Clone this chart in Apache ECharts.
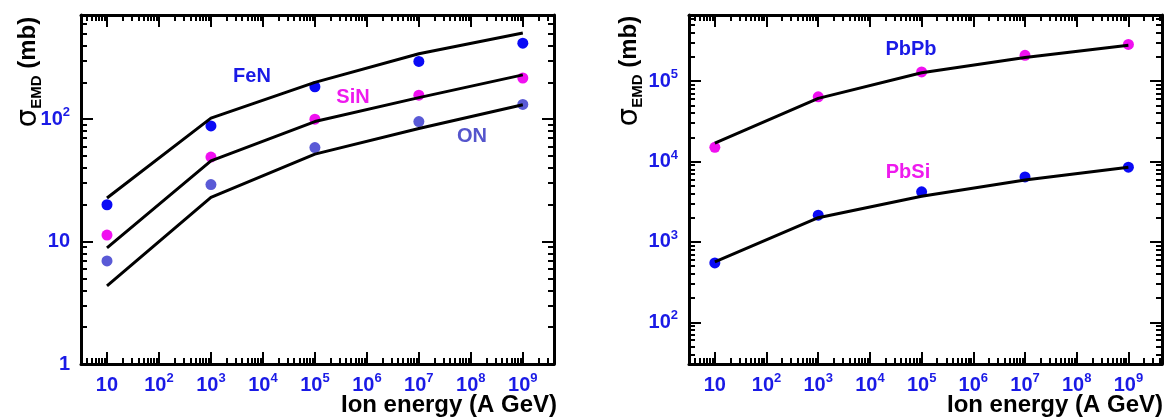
<!DOCTYPE html>
<html><head><meta charset="utf-8">
<script src="https://cdn.jsdelivr.net/npm/echarts@6/dist/echarts.min.js"></script>
<style>html,body{margin:0;padding:0;background:#fff}#c{width:1167px;height:417px}</style>
</head><body><div id="c"></div>
<script>
// ---- data ----
const energies = [10, 1e3, 1e5, 1e7, 1e9];           // A GeV
const feNPoints = [20, 88, 184, 296, 418];            // mb
const siNPoints = [11.3, 49, 100, 157, 217];
const oNPoints  = [6.95, 29.2, 58.6, 95.6, 132];
const feNCurve  = [22.7, 102, 200, 342, 505];
const siNCurve  = [8.9, 45.6, 95.6, 150, 230];
const oNCurve   = [4.35, 23, 51.8, 84, 131];
const pbPbPoints = [15000, 63800, 130000, 209000, 286000];
const pbSiPoints = [548, 2150, 4190, 6430, 8500];
const pbPbCurve  = [16900, 61000, 127000, 197000, 280000];
const pbSiCurve  = [565, 2000, 3700, 5900, 8500];
const xTickExponents = [1, 2, 3, 4, 5, 6, 7, 8, 9];
const yTickExponentsLeft = [0, 1, 2];
const yTickExponentsRight = [2, 3, 4, 5];
const seriesNamesLeft = ['FeN', 'SiN', 'ON'];
const seriesNamesRight = ['PbPb', 'PbSi'];

// ---- styling ----
const FONT = 'Liberation Sans, Arial, sans-serif';
const LBL = '#1a1ae6';
const BLUE = '#0a0af5', MAG = '#f010f0', SLATE = '#5a5ad6';
const L = v => Math.log10(v);
const pairs = (xs, ys) => xs.map((x, i) => [L(x), L(ys[i])]);

function fmtExp(v) {
  const n = Math.round(v);
  if (n === 0) return '{b|1}';
  if (n === 1) return '{b|10}';
  return '{b|10}{s|' + n + '}';
}
const rich = {
  b: {fontSize: 20, fontWeight: 'bold', color: LBL, fontFamily: FONT, lineHeight: 26},
  s: {fontSize: 13, fontWeight: 'bold', color: LBL, fontFamily: FONT, lineHeight: 14, verticalAlign: 'top'}
};
function minorVals(lo, hi) {
  const out = [];
  for (let e = Math.floor(lo) - 1; e <= Math.ceil(hi); e++)
    for (let k = 2; k <= 9; k++) { const v = e + Math.log10(k); if (v > lo + 0.01 && v < hi - 0.01) out.push(v); }
  return out;
}
function axesFor(dim, gi, min, max, major, labelMargin) {
  const minor = minorVals(min, max);
  const pos = dim === 'x' ? ['bottom', 'top'] : ['left', 'right'];
  const tick = (vals, len) => ({show: true, inside: true, length: len, lineStyle: {color: '#000', width: 2}, customValues: vals});
  const base = {type: 'value', gridIndex: gi, min, max, splitLine: {show: false}};
  const line = {show: true, onZero: false, lineStyle: {color: '#000', width: 3}};
  return [
    Object.assign({}, base, {position: pos[0], axisLine: line, axisTick: tick(major, 12),
      axisLabel: {show: true, customValues: major, formatter: fmtExp, rich, margin: labelMargin}}),
    Object.assign({}, base, {position: pos[0], axisLine: {show: false, onZero: false}, axisTick: tick(minor, 6), axisLabel: {show: false}}),
    Object.assign({}, base, {position: pos[1], axisLine: line, axisTick: tick(major, 12), axisLabel: {show: false}}),
    Object.assign({}, base, {position: pos[1], axisLine: {show: false, onZero: false}, axisTick: tick(minor, 6), axisLabel: {show: false}})
  ];
}

const xAxis = [].concat(
  axesFor('x', 0, 0.5, 9.6, xTickExponents, 8),
  axesFor('x', 1, 0.5, 9.65, xTickExponents, 8)
);
const yAxis = [].concat(
  axesFor('y', 0, 0, 2.851, yTickExponentsLeft, 11),
  axesFor('y', 1, 1.481, 5.822, yTickExponentsRight, 11)
);

function pts(name, xi, yi, xs, ys, color) {
  return {name, type: 'scatter', xAxisIndex: xi, yAxisIndex: yi, data: pairs(xs, ys),
    symbol: 'circle', symbolSize: 11, itemStyle: {color, opacity: 1}, z: 2, silent: true};
}
function curve(name, xi, yi, xs, ys) {
  return {name: name + ' calc', type: 'line', xAxisIndex: xi, yAxisIndex: yi, data: pairs(xs, ys),
    showSymbol: false, lineStyle: {color: '#000', width: 3}, z: 3, silent: true};
}

const series = [
  pts(seriesNamesLeft[0], 0, 0, energies, feNPoints, BLUE),
  pts(seriesNamesLeft[1], 0, 0, energies, siNPoints, MAG),
  pts(seriesNamesLeft[2], 0, 0, energies, oNPoints, SLATE),
  curve(seriesNamesLeft[0], 0, 0, energies, feNCurve),
  curve(seriesNamesLeft[1], 0, 0, energies, siNCurve),
  curve(seriesNamesLeft[2], 0, 0, energies, oNCurve),
  pts(seriesNamesRight[0], 4, 4, energies, pbPbPoints, MAG),
  pts(seriesNamesRight[1], 4, 4, energies, pbSiPoints, BLUE),
  curve(seriesNamesRight[0], 4, 4, energies, pbPbCurve),
  curve(seriesNamesRight[1], 4, 4, energies, pbSiCurve)
];

function txt(text, x, y, fill, align) {
  return {type: 'text', x, y, z: 10, style: {text, fill, fontSize: 20, fontWeight: 'bold', fontFamily: FONT,
    align: align || 'center', verticalAlign: 'middle'}};
}
function yTitle(x, y) {
  return {type: 'text', x, y, rotation: Math.PI / 2, z: 10, style: {
    text: '{g|σ}{sub|EMD}{t| (mb)}', align: 'center', verticalAlign: 'middle',
    rich: {
      g: {fontSize: 29, fill: '#000', fontFamily: 'DejaVu Sans, sans-serif', lineHeight: 32},
      sub: {fontSize: 15, fontWeight: 'bold', fill: '#000', fontFamily: FONT, verticalAlign: 'bottom', lineHeight: 15},
      t: {fontSize: 24, fontWeight: 'bold', fill: '#000', fontFamily: FONT, lineHeight: 32}
    }}};
}
function xTitle(x, y) {
  return {type: 'text', x, y, z: 10, style: {text: 'Ion energy (A GeV)', fill: '#000', fontSize: 24,
    fontWeight: 'bold', fontFamily: FONT, align: 'right', verticalAlign: 'middle'}};
}

const option = {
  animation: false,
  backgroundColor: '#fff',
  grid: [
    {left: 81, top: 15, width: 473, height: 349, outerBoundsMode: 'none'},
    {left: 689, top: 15, width: 473, height: 349, outerBoundsMode: 'none'}
  ],
  xAxis, yAxis, series,
  graphic: [
    txt(seriesNamesLeft[0], 252, 76, '#1a1ae6'),
    txt(seriesNamesLeft[1], 353, 97, '#ee1aee'),
    txt(seriesNamesLeft[2], 472, 136, '#5555cc'),
    txt(seriesNamesRight[0], 911, 49, '#1a1ae6'),
    txt(seriesNamesRight[1], 908, 172, '#ee1aee'),
    yTitle(28, 72), yTitle(629, 71),
    xTitle(557, 405), xTitle(1163, 405)
  ]
};
const chart = echarts.init(document.getElementById('c'), null, {renderer: 'canvas'});
chart.setOption(option);
</script></body></html>
